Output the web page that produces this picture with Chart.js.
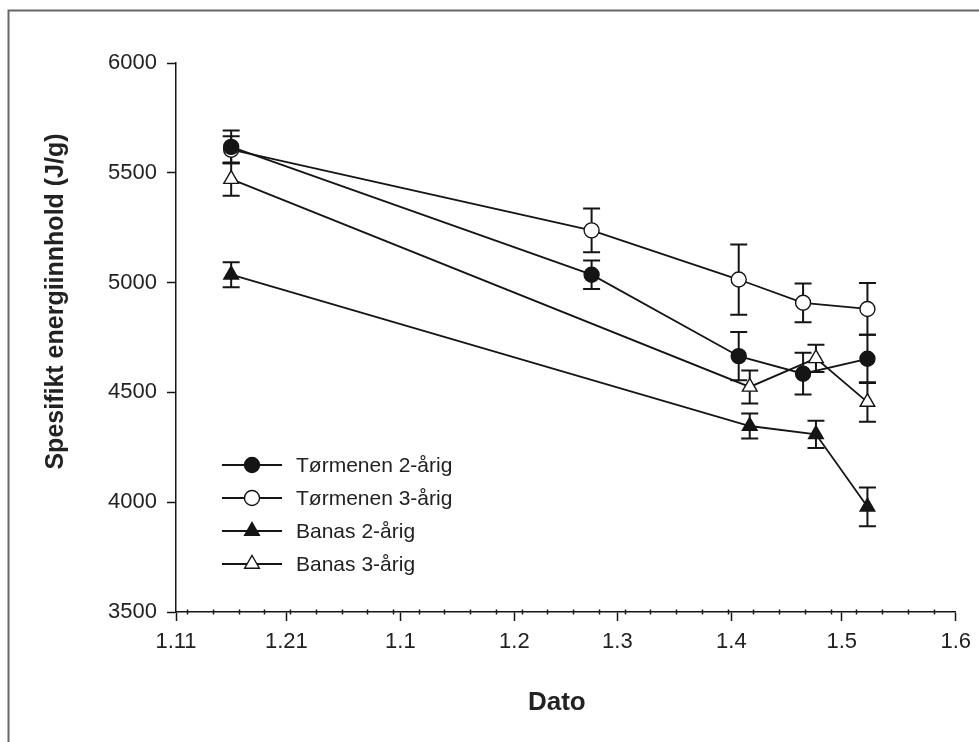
<!DOCTYPE html>
<html>
<head>
<meta charset="utf-8">
<script src="https://cdn.jsdelivr.net/npm/chart.js@4.4.1/dist/chart.umd.min.js"></script>
<style>
  html, body { margin: 0; padding: 0; background: #fff; }
  #wrap { width: 979px; height: 742px; position: relative; }
</style>
</head>
<body>
<div id="wrap"><canvas id="chart" width="979" height="742"></canvas></div>
<script>
// x = dager etter 1. november
const dayTicks = [0, 30, 61, 92, 120, 151, 181, 212];
const tickLabels = ['1.11', '1.21', '1.1', '1.2', '1.3', '1.4', '1.5', '1.6'];
const minorStart = 3;
const minorStep = 7;
const yTicks = [3500, 4000, 4500, 5000, 5500, 6000];

const seriesNames = ['Tørmenen 2-årig', 'Tørmenen 3-årig', 'Banas 2-årig', 'Banas 3-årig'];
const tormenenDays = [15, 113, 153, 170.5, 188];
const banasDays = [15, 156, 174, 188];

const tormenen2 = [5618, 5036, 4665, 4585, 4653];
const tormenen2Err = [75, 65, 110, 95, 110];
const tormenen3 = [5605, 5238, 5014, 4908, 4880];
const tormenen3Err = [62, 100, 160, 88, 118];
const banas2 = [5036, 4347, 4309, 3979];
const banas2Err = [57, 57, 62, 88];
const banas3 = [5471, 4525, 4655, 4456];
const banas3Err = [76, 75, 62, 90];

const xTitle = 'Dato';
const yTitle = 'Spesifikt energiinnhold (J/g)';

const ink = '#151515';
const textColor = '#222';
const fontFamily = '"Liberation Sans", Arial, sans-serif';

function toPoints(days, vals, errs) {
    return days.map((d, i) => ({ x: d, y: vals[i], err: errs[i] }));
}

function makeSet(label, days, vals, errs, style, filled) {
    return {
        label: label,
        data: toPoints(days, vals, errs),
        showLine: true,
        borderColor: ink,
        borderWidth: 1.8,
        tension: 0,
        pointStyle: style,
        pointRadius: style === 'circle' ? 7.5 : 8.5,
        pointBorderWidth: 1.4,
        pointBorderColor: ink,
        pointBackgroundColor: filled ? ink : '#fff',
        filled: filled
    };
}

const datasets = [
    makeSet(seriesNames[0], tormenenDays, tormenen2, tormenen2Err, 'circle', true),
    makeSet(seriesNames[1], tormenenDays, tormenen3, tormenen3Err, 'circle', false),
    makeSet(seriesNames[2], banasDays, banas2, banas2Err, 'triangle', true),
    makeSet(seriesNames[3], banasDays, banas3, banas3Err, 'triangle', false)
];

// feilstolper under markørene
const errorBars = {
    id: 'errorBars',
    beforeDatasetsDraw(chart) {
        const ctx = chart.ctx;
        const xs = chart.scales.x, ys = chart.scales.y;
        ctx.save();
        ctx.strokeStyle = ink;
        ctx.lineWidth = 2;
        chart.data.datasets.forEach(ds => {
            ds.data.forEach(p => {
                const x = xs.getPixelForValue(p.x);
                const top = ys.getPixelForValue(p.y + p.err);
                const bot = ys.getPixelForValue(p.y - p.err);
                ctx.beginPath();
                ctx.moveTo(x, top); ctx.lineTo(x, bot);
                ctx.moveTo(x - 8.5, top); ctx.lineTo(x + 8.5, top);
                ctx.moveTo(x - 8.5, bot); ctx.lineTo(x + 8.5, bot);
                ctx.stroke();
            });
        });
        ctx.restore();
    }
};

// små ukesmerker på x-aksen
const minorTicks = {
    id: 'minorTicks',
    afterDraw(chart) {
        const ctx = chart.ctx;
        const xs = chart.scales.x;
        const y0 = chart.chartArea.bottom;
        ctx.save();
        ctx.strokeStyle = ink;
        ctx.lineWidth = 1.5;
        for (let d = minorStart; d < dayTicks[dayTicks.length - 1]; d += minorStep) {
            const x = Math.round(xs.getPixelForValue(d)) + 0.5;
            ctx.beginPath();
            ctx.moveTo(x, y0 - 2.5);
            ctx.lineTo(x, y0 + 2.5);
            ctx.stroke();
        }
        ctx.restore();
    }
};

function drawMarker(ctx, style, filled, x, y) {
    ctx.beginPath();
    if (style === 'circle') {
        ctx.arc(x, y, 7.5, 0, Math.PI * 2);
    } else {
        const r = 8.5;
        ctx.moveTo(x, y - r);
        ctx.lineTo(x + r * Math.sin(Math.PI / 3), y + r / 2);
        ctx.lineTo(x - r * Math.sin(Math.PI / 3), y + r / 2);
        ctx.closePath();
    }
    ctx.fillStyle = filled ? ink : '#fff';
    ctx.fill();
    ctx.lineWidth = 1.4;
    ctx.strokeStyle = ink;
    ctx.stroke();
}

// aksetitler, tegnforklaring inne i plottet og ramme rundt figuren
const decorations = {
    id: 'decorations',
    afterDraw(chart) {
        const ctx = chart.ctx;
        const area = chart.chartArea;
        ctx.save();
        ctx.strokeStyle = '#666';
        ctx.lineWidth = 2;
        ctx.beginPath();
        ctx.moveTo(8.5, 742);
        ctx.lineTo(8.5, 10.5);
        ctx.lineTo(979, 10.5);
        ctx.stroke();

        ctx.fillStyle = textColor;
        ctx.textAlign = 'center';
        ctx.textBaseline = 'middle';
        ctx.font = 'bold 26px ' + fontFamily;
        ctx.fillText(xTitle, (area.left + area.right) / 2 - 9, 703);

        ctx.save();
        ctx.translate(56, (area.top + area.bottom) / 2 - 36);
        ctx.rotate(-Math.PI / 2);
        ctx.font = 'bold 25px ' + fontFamily;
        ctx.fillText(yTitle, 0, 0);
        ctx.restore();

        const x0 = 222, x1 = 282, tx = 296;
        chart.data.datasets.forEach((ds, i) => {
            const y = 465 + i * 33;
            ctx.strokeStyle = ink;
            ctx.lineWidth = 1.8;
            ctx.beginPath();
            ctx.moveTo(x0, y); ctx.lineTo(x1, y);
            ctx.stroke();
            drawMarker(ctx, ds.pointStyle, ds.filled, (x0 + x1) / 2, y);
            ctx.fillStyle = textColor;
            ctx.font = '21px ' + fontFamily;
            ctx.textBaseline = 'middle';
            ctx.textAlign = 'left';
            ctx.fillText(ds.label, tx, y + 1);
        });
        ctx.restore();
    }
};

new Chart(document.getElementById('chart'), {
    type: 'scatter',
    data: { datasets: datasets },
    options: {
        responsive: false,
        animation: false,
        layout: { padding: { left: 0, right: 19, top: 63, bottom: 0 } },
        plugins: { legend: { display: false }, tooltip: { enabled: false } },
        scales: {
            x: {
                type: 'linear',
                min: dayTicks[0],
                max: dayTicks[dayTicks.length - 1],
                afterFit: s => { s.height = 130; },
                afterBuildTicks: s => { s.ticks = dayTicks.map(v => ({ value: v })); },
                ticks: {
                    autoSkip: false,
                    maxRotation: 0,
                    padding: 8,
                    color: textColor,
                    font: { family: fontFamily, size: 22 },
                    callback: (v) => tickLabels[dayTicks.indexOf(v)]
                },
                grid: { drawOnChartArea: false, drawTicks: true, tickLength: 9, tickColor: ink, tickWidth: 1.5 },
                border: { display: true, color: ink, width: 1.5 }
            },
            y: {
                min: 3500,
                max: 6000,
                afterFit: s => { s.width = 176; },
                afterBuildTicks: s => { s.ticks = yTicks.map(v => ({ value: v })); },
                ticks: {
                    padding: 10,
                    color: textColor,
                    font: { family: fontFamily, size: 22 },
                    callback: (v) => String(v)
                },
                grid: { drawOnChartArea: false, drawTicks: true, tickLength: 9, tickColor: ink, tickWidth: 1.5 },
                border: { display: true, color: ink, width: 1.5 }
            }
        }
    },
    plugins: [errorBars, minorTicks, decorations]
});
</script>
</body>
</html>
